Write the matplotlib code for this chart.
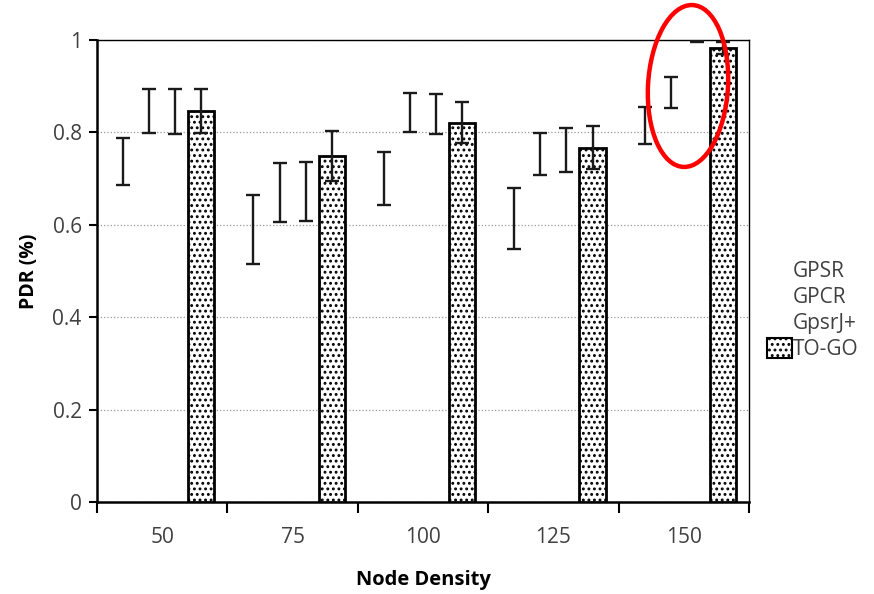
import numpy as np
import matplotlib.pyplot as plt
from matplotlib.patches import Ellipse, Patch

plt.rcParams['font.family'] = ['Open Sans', 'DejaVu Sans']
plt.rcParams['hatch.linewidth'] = 1.3

densities = ['50', '75', '100', '125', '150']
series = ['GPSR', 'GPCR', 'GpsrJ+', 'TO-GO']

# mean PDR per series and density
gpsr = [0.737, 0.590, 0.700, 0.613, 0.815]
gpcr = [0.847, 0.670, 0.843, 0.753, 0.886]
gpsrj = [0.845, 0.672, 0.840, 0.762, 0.997]
togo = [0.847, 0.749, 0.821, 0.767, 0.982]

gpsr_err = [0.051, 0.075, 0.058, 0.066, 0.040]
gpcr_err = [0.048, 0.064, 0.043, 0.045, 0.034]
gpsrj_err = [0.048, 0.064, 0.044, 0.048, 0.002]
togo_err = [0.048, 0.054, 0.044, 0.046, 0.013]

means = [gpsr, gpcr, gpsrj, togo]
errs = [gpsr_err, gpcr_err, gpsrj_err, togo_err]

fig = plt.figure(figsize=(8.74, 5.94), dpi=100)
ax = fig.add_axes([97/874, 92/594, 652/874, 462/594])

x = np.arange(len(densities))
w = 0.2
ekw = dict(ecolor='#1a1a1a', elinewidth=1.7, capsize=5, capthick=1.7)
for i in range(4):
    pos = x + (i - 1.5) * w
    if i < 3:
        # only the error bars of these series are visible
        ax.bar(pos, means[i], w, color='none', edgecolor='none',
               yerr=errs[i], error_kw=ekw, zorder=3)
    else:
        ax.bar(pos, means[i], w, color='white', edgecolor='black',
               linewidth=2, hatch='...', yerr=errs[i], error_kw=ekw, zorder=3)

ax.set_xlim(-0.5, 4.5)
ax.set_ylim(0, 1)
ax.set_yticks([0, 0.2, 0.4, 0.6, 0.8, 1.0])
ax.set_yticklabels(['0', '0.2', '0.4', '0.6', '0.8', '1'])
ax.set_xticks(x)
ax.set_xticklabels(densities)
ax.set_xticks(np.arange(-0.5, 5, 1), minor=True)
ax.tick_params(axis='x', which='major', length=0, pad=18, labelsize=15, labelcolor='#404040')
ax.tick_params(axis='x', which='minor', length=8, width=1.5, direction='out')
ax.tick_params(axis='y', length=6, width=1.5, labelsize=15, labelcolor='#404040', pad=5)

ax.grid(axis='y', linestyle=':', color='#999999', linewidth=0.9)
ax.set_axisbelow(True)
for s in ['left', 'bottom']:
    ax.spines[s].set_linewidth(1.8)
for s in ['top', 'right']:
    ax.spines[s].set_linewidth(1.0)

ax.set_ylabel('PDR (%)', fontweight='bold', fontsize=14, labelpad=10)
ax.set_xlabel('Node Density', fontweight='bold', fontsize=14.5, labelpad=16)

handles = [Patch(facecolor='none', edgecolor='none') for _ in range(3)]
handles.append(Patch(facecolor='white', edgecolor='black', linewidth=1.5, hatch='...'))
fig.legend(handles, series, loc='center left', bbox_to_anchor=(748/874, 1 - 310/594),
           frameon=False, fontsize=15, handlelength=1.2, handleheight=1.1,
           handletextpad=0.05, labelspacing=0.2, labelcolor='#404040')

ell = Ellipse((688/874, 1 - 86/594), 80/874, 162/594, angle=-2,
              transform=fig.transFigure, fill=False, edgecolor='red', linewidth=3.2)
fig.patches.append(ell)

fig.savefig('out.png', dpi=100)
